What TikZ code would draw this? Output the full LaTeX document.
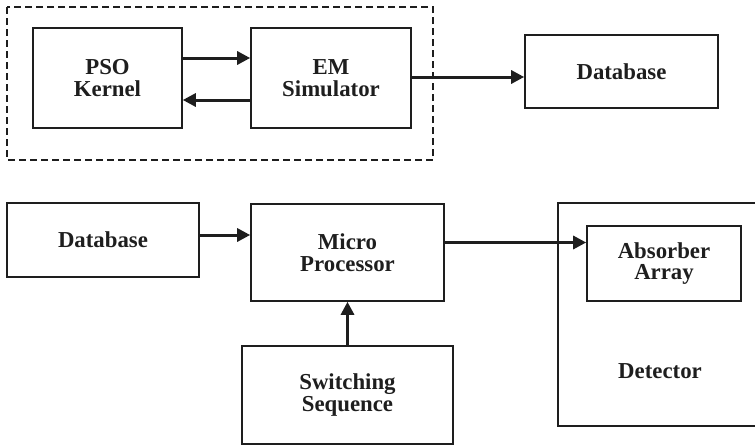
\documentclass[tikz,border=0pt]{standalone}
\usepackage{fontspec}
\setmainfont{Liberation Serif}
\usetikzlibrary{arrows.meta, positioning, calc}
\definecolor{inkgray}{RGB}{30, 30, 30}
\tikzset{
  block/.style={draw=inkgray, line width=0.8pt, rectangle, align=center,
    font=\fontsize{11.4}{10.7}\selectfont\bfseries, text=inkgray},
  flow/.style={draw=inkgray, line width=1.5pt, -{Triangle[length=6.5pt, width=6.5pt]}},
}

\begin{document}
\begin{tikzpicture}[x=0.5pt, y=-0.5pt]
  \useasboundingbox (0, 0) rectangle (755, 445);

  % optimisation loop
  \draw[inkgray, line width=0.6pt, dash pattern=on 3.5pt off 2pt] (7, 7) rectangle (433, 160);
  \node[block, minimum width=74.5pt, minimum height=50pt] (pso) at (107.5, 78) {PSO\\Kernel};
  \node[block, minimum width=80pt, minimum height=50pt] (em) at (331, 78) {EM\\Simulator};
  \node[block, minimum width=96.5pt, minimum height=36.5pt] (dbtop) at (621.5, 71.5) {Database};

  \draw[flow] ([yshift=10pt]pso.east) -- ([yshift=10pt]em.west);
  \draw[flow] ([yshift=-11pt]em.west) -- ([yshift=-11pt]pso.east);
  \draw[flow] ([yshift=0.5pt]em.east) -- ([yshift=0.5pt]em.east -| dbtop.west);

  % control chain
  \node[block, minimum width=96pt, minimum height=37pt] (dbbot) at (103, 240) {Database};
  \node[block, minimum width=96.5pt, minimum height=48.5pt] (micro) at (347.5, 252.5) {Micro\\Processor};
  \node[block, minimum width=105.5pt, minimum height=49pt] (switch) at (347.5, 395) {Switching\\Sequence};
  \node[block, minimum width=101pt, minimum height=111.5pt] (det) at (659, 314.5) {};
  \node[block, minimum width=77pt, minimum height=37.5pt] (absorb) at (664, 263.5) {Absorber\\ Array};
  \node[block, draw=none] (detlabel) at (660, 371) {Detector};

  \draw[flow] ([yshift=2.5pt]dbbot.east) -- ([yshift=2.5pt]dbbot.east -| micro.west);
  \draw[flow] (switch.north) -- (micro.south);
  \draw[flow] ([yshift=5pt]micro.east) -- ([yshift=5pt]micro.east -| absorb.west);
\end{tikzpicture}
\end{document}
